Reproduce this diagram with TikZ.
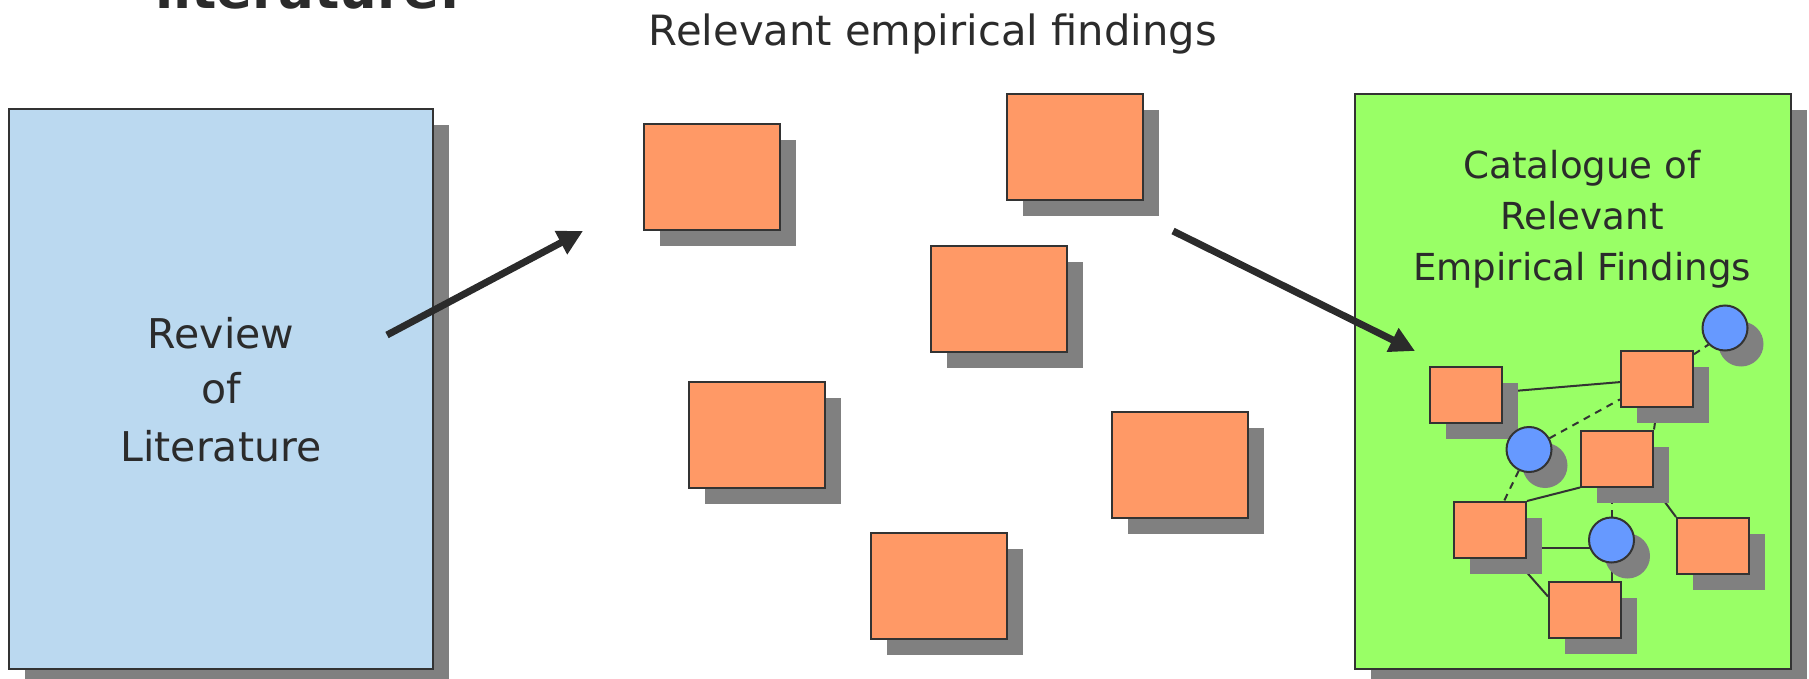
\documentclass[tikz,border=0pt]{standalone}
\usepackage{fontspec}
\setmainfont{DejaVu Sans}
\usetikzlibrary{arrows.meta,shadows,calc}
\definecolor{txt}{HTML}{2B2B2B}
\definecolor{edge}{HTML}{333333}
\definecolor{orangefill}{HTML}{FF9966}
\definecolor{bluepanel}{HTML}{BBD9F0}
\definecolor{greenpanel}{HTML}{99FF66}
\definecolor{dotblue}{HTML}{6699FF}
\definecolor{shadowgray}{HTML}{808080}
\pgfdeclarelayer{bottom}
\pgfdeclarelayer{links}
\pgfsetlayers{bottom,links,main}
\begin{document}
\begin{tikzpicture}[x=1pt,y=-1pt,
  shad/.style={general shadow={fill=shadowgray,shadow xshift=16pt,shadow yshift=-16pt}},
  panel/.style={draw=edge,line width=1.8pt,inner sep=0pt,shad,text=txt},
  card/.style={draw=edge,line width=2pt,fill=orangefill,inner sep=0pt,
    minimum width=136pt,minimum height=106pt,shad},
  minicard/.style={draw=edge,line width=2pt,fill=orangefill,inner sep=0pt,
    minimum width=72pt,minimum height=56pt,shad},
  dot/.style={circle,draw=edge,line width=2pt,fill=dotblue,inner sep=0pt,
    minimum size=45pt,shad},
  link/.style={draw=edge,line width=2pt},
  dlink/.style={link,dash pattern=on 7pt off 6pt},
  bigarrow/.style={draw=txt,line width=7pt,-{Triangle[length=25pt,width=25pt]}},
  label/.style={text=txt,inner sep=0pt}
]
\useasboundingbox (0,0) rectangle (1809,679);

% cut-off heading at the top
\node[label,anchor=base,font=\bfseries\fontsize{53}{53}\selectfont] (cut) at (308,8.5) {literature:};
% title
\node[label,anchor=base,font=\fontsize{41.7}{42}\selectfont] (title) at (933,46) {Relevant empirical findings};

\begin{pgfonlayer}{bottom}
\node[panel,fill=bluepanel,minimum width=424pt,minimum height=560pt,
  align=center,font=\fontsize{41}{58}\selectfont,text depth=0pt] (review) at (221,389)
  {\raisebox{-3pt}{Review}\\of\\Literature};
\node[panel,fill=greenpanel,minimum width=436pt,minimum height=575pt] (catalogue) at (1573,381.5) {};
\end{pgfonlayer}

\node[label,anchor=base,align=center,font=\fontsize{37.2}{51}\selectfont] (cattext) at (1582,280)
  {Catalogue of\\Relevant\\Empirical Findings};

% loose findings
\node[card] (f1) at (712,177) {};
\node[card] (f2) at (1075,147) {};
\node[card] (f3) at (999,299) {};
\node[card] (f4) at (757,435) {};
\node[card] (f5) at (1180,465) {};
\node[card] (f6) at (939,586) {};

% catalogue network
\node[minicard] (a) at (1466,395) {};
\node[minicard] (b) at (1657,379) {};
\node[minicard] (c) at (1617,458.5) {};
\node[minicard] (d) at (1490,530) {};
\node[minicard] (e) at (1713,546) {};
\node[minicard] (f) at (1585,609.5) {};
\node[dot] (A) at (1725,328) {};
\node[dot] (B) at (1529,449.5) {};
\node[dot] (C) at (1611.5,540) {};

\begin{pgfonlayer}{links}
\draw[link] (a) -- (b);
\draw[dlink] (B) -- (b);
\draw[dlink] (b) -- (A.south west);
\draw[link] (b.south) -- (c.north east);
\draw[dlink] (B) -- (d);
\draw[link] (d.north east) -- (c.south west);
\draw[dlink] (C) -- (C |- c.center);
\draw[link] (c.south east) -- (e.north west);
\draw[link] ([yshift=-18pt]d.east) -- ([yshift=-18pt]d.east -| C.center);
\draw[link] ([xshift=-12pt]d.south east) -- ([yshift=13pt]f.west);
\draw[link] (C) -- (C |- f.north);
\end{pgfonlayer}

% big arrows
\coordinate (a1s) at (387,335);
\coordinate (a1e) at (583,231);
\coordinate (a2s) at (1173,231);
\coordinate (a2e) at (1415,351);
\draw[bigarrow] (a1s) -- (a1e);
\draw[bigarrow] (a2s) -- (a2e);
\end{tikzpicture}
\end{document}
